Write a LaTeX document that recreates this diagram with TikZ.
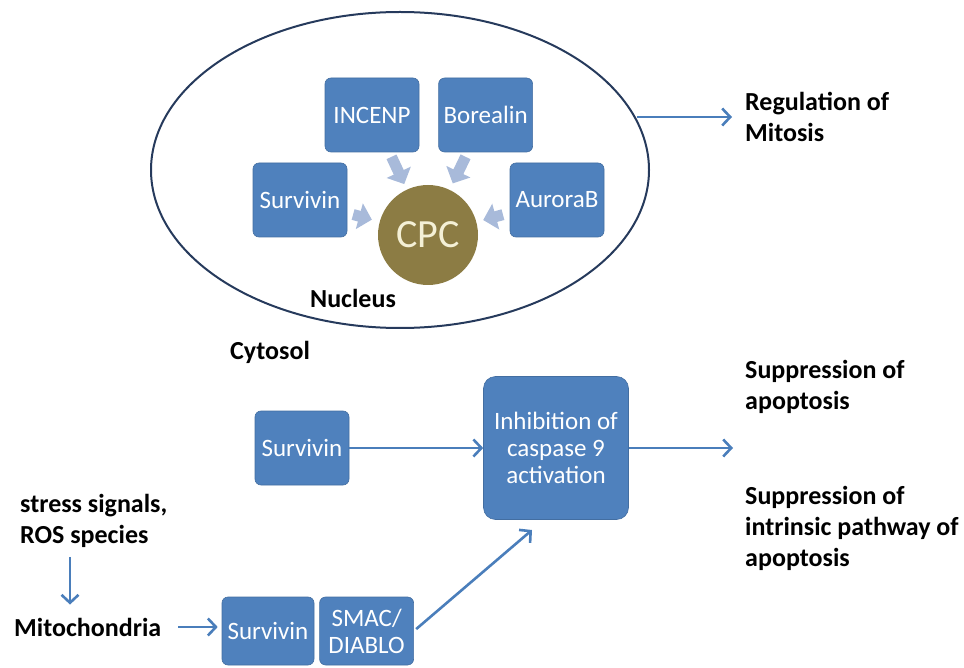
\documentclass[tikz,border=0pt]{standalone}
\usepackage{fontspec}
\setmainfont{Carlito}
\usetikzlibrary{arrows.meta,positioning,shapes.geometric}
\definecolor{boxBlue}{RGB}{79,129,189}
\definecolor{paleBlue}{RGB}{168,186,218}
\definecolor{cpcOlive}{RGB}{140,124,68}
\definecolor{cpcCream}{RGB}{244,240,214}
\definecolor{lineBlue}{RGB}{74,126,187}
\definecolor{rimNavy}{RGB}{38,58,92}
\tikzset{
  protbox/.style={rounded corners=6pt,fill=boxBlue,draw=boxBlue!85!black,line width=0.6pt,text=white,
    minimum width=94pt,minimum height=74pt,inner sep=2pt,align=center,font=\fontsize{25}{27}\selectfont},
  feedarr/.style={paleBlue,line width=11pt,-{Triangle[width=26pt,length=13pt]}},
  flowarr/.style={lineBlue,line width=2.6pt,-{Straight Barb[length=8pt,width=17pt,line width=2.6pt]}},
  lbl/.style={font=\bfseries\fontsize{26}{31}\selectfont,align=left,inner sep=0pt,anchor=west}
}
\begin{document}
\begin{tikzpicture}[x=1pt,y=-1pt]
\useasboundingbox (0,0) rectangle (964,668);
% nucleus with the CPC
\node[ellipse,draw=rimNavy,line width=2pt,minimum width=498pt,minimum height=316pt] (nuc) at (400,170) {};
\node[protbox] (incenp) at (372,115) {INCENP};
\node[protbox,right=19pt of incenp] (borealin) {Borealin};
\node[protbox] (survN) at (300,200) {Survivin};
\node[protbox] (aurora) at (557,200) {AuroraB};
\node[circle,fill=cpcOlive,minimum size=100pt,inner sep=0pt,text=cpcCream,font=\fontsize{40}{40}\selectfont] (cpc) at (428,235) {CPC};
\node[font=\bfseries\fontsize{26}{30}\selectfont] (nuclbl) at (353,298) {Nucleus};
\node[font=\bfseries\fontsize{26}{30}\selectfont] (cytlbl) at (270,352) {Cytosol};

\draw[feedarr,shorten <=5pt,shorten >=6pt] (incenp) -- (cpc);
\draw[feedarr,shorten <=5pt,shorten >=7pt] (borealin) -- (cpc);
\draw[feedarr,shorten <=6pt,shorten >=8pt] (survN) -- (cpc);
\draw[feedarr,shorten <=7pt,shorten >=7pt] (aurora) -- (cpc);

\node[lbl] (reg) at (745,117) {Regulation of\\Mitosis};
\draw[flowarr,shorten >=13pt] (nuc.12.7 |- reg.west) -- (reg.west);

% cytosol
\node[protbox] (survC) at (302,448) {Survivin};
\node[protbox,rounded corners=12pt,minimum width=145pt,minimum height=143pt] (inhib) at (556,448) {Inhibition of\\caspase 9\\activation};
\coordinate (supptip) at (733,448);
\draw[flowarr] (survC) -- (inhib);
\draw[flowarr] (inhib) -- (supptip);
\node[lbl] (supp) at (745,387) {Suppression of\\apoptosis};
\node[lbl] (suppint) at (745,528) {Suppression of\\intrinsic pathway of\\apoptosis};

% mitochondrial route
\node[lbl] (stress) at (20,521) {stress signals,\\ROS species};
\node[lbl] (mito) at (14,627) {Mitochondria};
\node[protbox,minimum width=92pt,minimum height=68pt] (survM) at (268,631) {Survivin};
\node[protbox,minimum width=94pt,minimum height=68pt,right=5pt of survM] (smac) {SMAC/\\DIABLO};
\coordinate (smactip) at (532,530);
\draw[flowarr,shorten <=9pt,shorten >=13pt] ([xshift=50pt]stress.south west) -- ([xshift=50pt]stress.south west |- mito.north);
\draw[flowarr,shorten <=17pt,shorten >=4pt] (mito.east) -- (mito.east -| survM.west);
\draw[flowarr,shorten <=3pt] (smac.east) -- (smactip);
\end{tikzpicture}
\end{document}
